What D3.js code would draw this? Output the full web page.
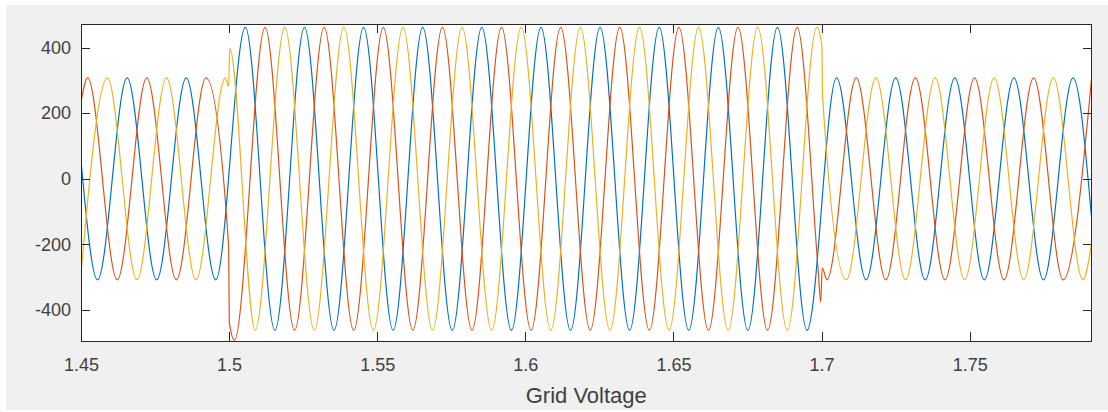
<!DOCTYPE html>
<html>
<head>
<meta charset="utf-8">
<script src="https://d3js.org/d3.v7.min.js"></script>
<style>
  body { margin: 0; background: #fff; }
  #chart text { font-family: "Liberation Sans", Arial, Helvetica, sans-serif; }
</style>
</head>
<body>
<div id="chart"></div>
<script>
///////////////////////////////////////////////////////////////////////////
///////////////////////////// Data ////////////////////////////////////////
///////////////////////////////////////////////////////////////////////////
//Extrema of each phase [time (s), voltage (V)]
//plus the transient samples at the switching instants 1.5 s and 1.7 s
var phaseA = [
  [1.45, 55], [1.45558, -308], [1.46556, 308], [1.47554, -308], [1.48552, 308],
  [1.49549, -308], [1.50547, 462], [1.51545, -462], [1.52543, 462], [1.53541, -462],
  [1.54539, 462], [1.55537, -462], [1.56535, 462], [1.57532, -462], [1.58530, 462],
  [1.59528, -462], [1.60526, 462], [1.61524, -462], [1.62522, 462], [1.63519, -462],
  [1.64517, 462], [1.65515, -462], [1.66513, 462], [1.67511, -462], [1.68509, 462],
  [1.69507, -462], [1.70504, 308], [1.71502, -308], [1.72500, 308], [1.73498, -308],
  [1.74496, 308], [1.75494, -308], [1.76492, 308], [1.77489, -308], [1.78487, 308],
  [1.7911, -116]
];

var phaseB = [
  [1.45, 234], [1.45225, 308], [1.46223, -308], [1.47221, 308], [1.48219, -308],
  [1.49217, 308], [1.4998, -200], [1.5001, -440], [1.5018, -492], [1.51213, 462],
  [1.52210, -462], [1.53208, 462], [1.54206, -462], [1.55204, 462], [1.56202, -462],
  [1.57200, 462], [1.58198, -462], [1.59195, 462], [1.60193, -462], [1.61191, 462],
  [1.62189, -462], [1.63187, 462], [1.64185, -462], [1.65183, 462], [1.66180, -462],
  [1.67178, 462], [1.68176, -462], [1.69174, 462], [1.6988, -275], [1.6997, -376],
  [1.7002, -272], [1.7018, -308], [1.71170, 308], [1.72168, -308], [1.73165, 308],
  [1.74163, -308], [1.75161, 308], [1.76159, -308], [1.77157, 308], [1.78155, -308],
  [1.7911, 303]
];

var phaseC = [
  [1.45, -288], [1.45890, 308], [1.46888, -308], [1.47886, 308], [1.48884, -308],
  [1.4987, 308], [1.49985, 282], [1.5002, 398], [1.50880, -462], [1.51877, 462],
  [1.52875, -462], [1.53873, 462], [1.54871, -462], [1.55869, 462], [1.56867, -462],
  [1.57864, 462], [1.58862, -462], [1.59860, 462], [1.60858, -462], [1.61856, 462],
  [1.62854, -462], [1.63852, 462], [1.64849, -462], [1.65847, 462], [1.66845, -462],
  [1.67843, 462], [1.68841, -462], [1.69839, 462], [1.7001, 405], [1.7003, 255],
  [1.70836, -308], [1.71834, 308], [1.72832, -308], [1.73830, 308], [1.74828, -308],
  [1.75826, 308], [1.76823, -308], [1.77821, 308], [1.78819, -308], [1.7911, -200]
];

var seriesColors = ["#0072BD", "#D95319", "#EDB120"];
var xTicks = [1.45, 1.5, 1.55, 1.6, 1.65, 1.7, 1.75];
var yTicks = [-400, -200, 0, 200, 400];
var xLimits = [1.45, 1.7911],
    yLimits = [-494.5, 472];
var xLabel = "Grid Voltage";

///////////////////////////////////////////////////////////////////////////
///////////////////////// Initiate elements ///////////////////////////////
///////////////////////////////////////////////////////////////////////////
var width = 1108,
    height = 412,
    plotLeft = 81,
    plotRight = 1091.5,
    plotTop = 24,
    plotBottom = 341,
    tickLen = 9,
    axisColor = "#262626",
    textColor = "#404040";

var svg = d3.select("#chart").append("svg")
    .attr("width", width)
    .attr("height", height);

//Grey figure background
svg.append("rect")
   .attr("x", 6).attr("y", 5)
   .attr("width", width - 6).attr("height", height - 7)
   .style("fill", "#f0f0f0");

//White axes area
svg.append("rect")
   .attr("x", plotLeft).attr("y", plotTop)
   .attr("width", plotRight - plotLeft).attr("height", plotBottom - plotTop)
   .style("fill", "#fff");

var x = d3.scaleLinear().domain(xLimits).range([plotLeft, plotRight]);
var y = d3.scaleLinear().domain(yLimits).range([plotBottom, plotTop]);

svg.append("clipPath").attr("id", "plotClip")
   .append("rect")
   .attr("x", plotLeft).attr("y", plotTop)
   .attr("width", plotRight - plotLeft).attr("height", plotBottom - plotTop);

//Drawing the three phases
var line = d3.line()
    .x(function(d) { return x(d[0]); })
    .y(function(d) { return y(d[1]); })
    .curve(d3.curveMonotoneX);

var lines = svg.append("g").attr("clip-path", "url(#plotClip)");
[phaseA, phaseB, phaseC].forEach(function(series, i) {
  lines.append("path")
       .datum(series)
       .attr("d", line)
       .style("fill", "none")
       .style("stroke", seriesColors[i])
       .style("stroke-width", 1.2)
       .style("stroke-linejoin", "round");
});

///////////////////////////////////////////////////////////////////////////
/////////////////////////////// Axes //////////////////////////////////////
///////////////////////////////////////////////////////////////////////////
//Plain hyphen for negatives, like the original figure
function plainNumber(d) { return String(d); }

function styleAxis(g, size) {
  g.select(".domain").remove();
  g.selectAll(".tick line")
   .style("stroke", axisColor)
   .style("shape-rendering", "crispEdges");
  g.selectAll(".tick text")
   .style("fill", textColor)
   .style("font-size", size + "px")
   .style("font-family", "'Liberation Sans', Arial, Helvetica, sans-serif");
}

svg.append("g")
   .attr("transform", "translate(0," + plotBottom + ")")
   .call(d3.axisBottom(x).tickValues(xTicks).tickSize(-tickLen).tickPadding(17)
           .tickFormat(plainNumber))
   .call(styleAxis, 18);

svg.append("g")
   .attr("transform", "translate(0," + plotTop + ")")
   .call(d3.axisTop(x).tickValues(xTicks).tickSize(-tickLen).tickFormat(""))
   .call(styleAxis, 18);

svg.append("g")
   .attr("transform", "translate(" + plotLeft + ",0)")
   .call(d3.axisLeft(y).tickValues(yTicks).tickSize(-tickLen).tickPadding(10)
           .tickFormat(plainNumber))
   .call(styleAxis, 18);

svg.append("g")
   .attr("transform", "translate(" + plotRight + ",0)")
   .call(d3.axisRight(y).tickValues(yTicks).tickSize(-tickLen).tickFormat(""))
   .call(styleAxis, 18);

//Box around the axes
svg.append("rect")
   .attr("x", plotLeft).attr("y", plotTop)
   .attr("width", plotRight - plotLeft).attr("height", plotBottom - plotTop)
   .style("fill", "none")
   .style("stroke", axisColor)
   .style("stroke-width", 1)
   .style("shape-rendering", "crispEdges");

svg.append("text")
   .attr("x", (plotLeft + plotRight) / 2)
   .attr("y", 403)
   .attr("text-anchor", "middle")
   .style("font-size", "22px")
   .style("fill", textColor)
   .text(xLabel);
</script>
</body>
</html>
